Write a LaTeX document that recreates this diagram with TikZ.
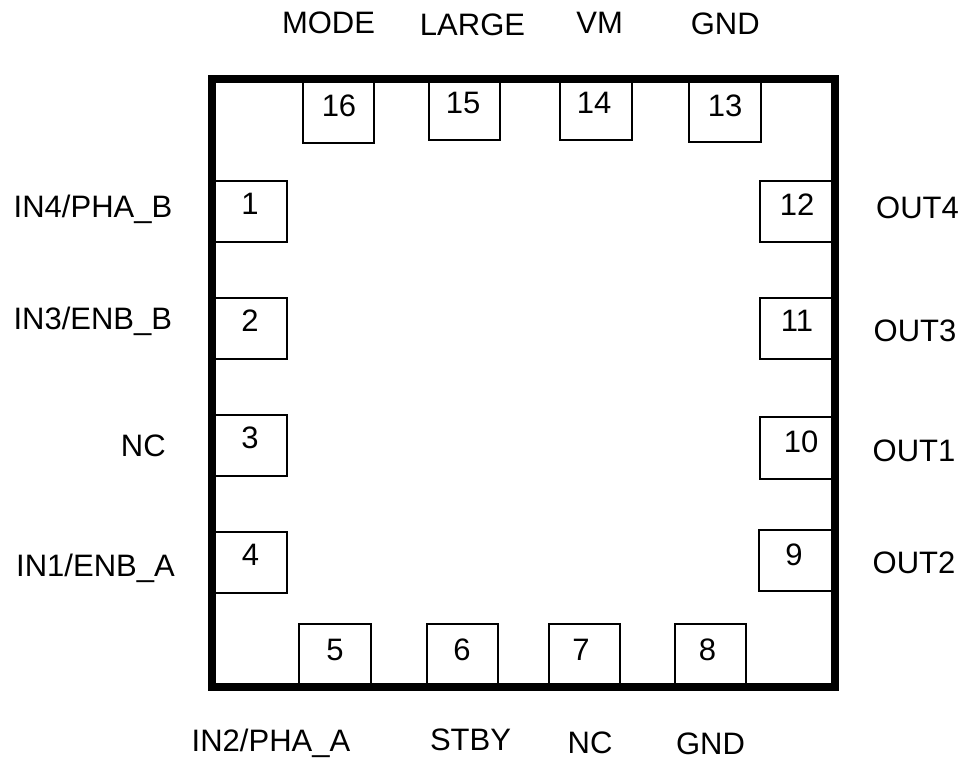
\documentclass[tikz,border=0pt]{standalone}
\usepackage{fontspec}
\setmainfont{Liberation Sans}
\begin{document}
\begin{tikzpicture}[x=1pt,y=-1pt,
  pinbox/.style={draw, line width=2pt, fill=white, inner sep=0pt, minimum width=#1},
  pinbox/.default=72pt,
  num/.style={anchor=base, inner sep=0pt, font=\fontsize{31pt}{37pt}\selectfont},
  lbl/.style={anchor=base, inner sep=0pt, font=\fontsize{31pt}{37pt}\selectfont},
  chip/.style={draw, line width=8pt, inner sep=0pt}]
\useasboundingbox (0,0) rectangle (964,758);
% top pins
\node[pinbox=71pt, minimum height=64pt] (p16) at (338.5,111) {};
\node[pinbox=71pt, minimum height=61pt] (p15) at (464.5,109.5) {};
\node[pinbox=72pt, minimum height=61pt] (p14) at (596,109.5) {};
\node[pinbox=72pt, minimum height=63pt] (p13) at (725,110.5) {};
% left pins
\node[pinbox=75pt, minimum height=61pt] (p1) at (249.5,211.5) {};
\node[pinbox=75pt, minimum height=61pt] (p2) at (249.5,328.5) {};
\node[pinbox=75pt, minimum height=61pt] (p3) at (249.5,445.5) {};
\node[pinbox=75pt, minimum height=61pt] (p4) at (249.5,562) {};
% right pins
\node[pinbox=75pt, minimum height=61pt] (p12) at (797.5,211.5) {};
\node[pinbox=75pt, minimum height=61pt] (p11) at (797.5,328.5) {};
\node[pinbox=75pt, minimum height=62pt] (p10) at (797.5,448) {};
\node[pinbox=76pt, minimum height=61pt] (p9) at (797,560.5) {};
% bottom pins
\node[pinbox=72pt, minimum height=63pt] (p5) at (335,655.5) {};
\node[pinbox=71pt, minimum height=63pt] (p6) at (462.5,655.5) {};
\node[pinbox=71pt, minimum height=63pt] (p7) at (584.5,655.5) {};
\node[pinbox=71pt, minimum height=63pt] (p8) at (710.5,655.5) {};
% package outline
\node[chip, minimum width=623pt, minimum height=608pt] (pkg) at (523.5,383) {};
% pin numbers
\node[num] (n16) at (339,116.7) {16};
\node[num] (n15) at (463,113.3) {15};
\node[num] (n14) at (594,113.3) {14};
\node[num] (n13) at (725,116.7) {13};
\node[num] (n1) at (250,214.3) {1};
\node[num] (n2) at (250,331.5) {2};
\node[num] (n3) at (250,448.5) {3};
\node[num] (n4) at (250.5,565.7) {4};
\node[num] (n12) at (797,215) {12};
\node[num] (n11) at (797,331.5) {11};
\node[num] (n10) at (801,452.3) {10};
\node[num] (n9) at (794,565) {9};
\node[num] (n5) at (335,660) {5};
\node[num] (n6) at (462,660) {6};
\node[num] (n7) at (581,660) {7};
\node[num] (n8) at (707.5,660) {8};
% pin names
\node[lbl] (lMODE) at (328.5,33.3) {MODE};
\node[lbl] (lLARGE) at (472.5,35) {LARGE};
\node[lbl] (lVM) at (599.7,33.3) {VM};
\node[lbl] (lGNDt) at (725.3,34) {GND};
\node[lbl] (lIN4) at (93,217.7) {IN4/PHA\_B};
\node[lbl] (lIN3) at (92.8,329) {IN3/ENB\_B};
\node[lbl] (lNCl) at (143.3,456) {NC};
\node[lbl] (lIN1) at (95.5,576.7) {IN1/ENB\_A};
\node[lbl] (lOUT4) at (917.5,218.3) {OUT4};
\node[lbl] (lOUT3) at (915,341.7) {OUT3};
\node[lbl] (lOUT1) at (914,461.7) {OUT1};
\node[lbl] (lOUT2) at (914,573.3) {OUT2};
\node[lbl] (lIN2) at (271,751.7) {IN2/PHA\_A};
\node[lbl] (lSTBY) at (470.5,750) {STBY};
\node[lbl] (lNCb) at (590,753.3) {NC};
\node[lbl] (lGNDb) at (710.5,754.3) {GND};
\end{tikzpicture}
\end{document}
